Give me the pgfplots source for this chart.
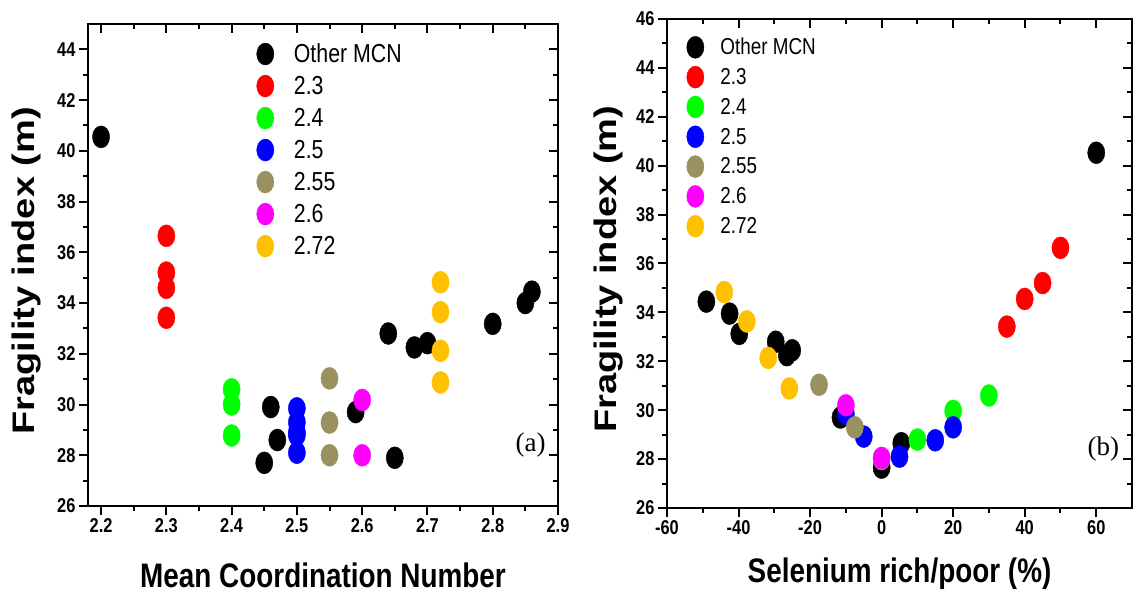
\documentclass[border=0pt]{standalone}
\usepackage{fontspec}
\setmainfont{Liberation Sans}[FakeStretch=0.82]
\newfontfamily\ylfont{Liberation Sans}
\newfontfamily\serfont{Liberation Serif}
\usepackage{graphicx}
\usepackage{pgfplots}
\pgfplotsset{compat=1.18}

\definecolor{cOlive}{RGB}{153,145,95}
\definecolor{cGold}{RGB}{255,192,0}
\definecolor{cGreen}{RGB}{0,255,0}
\definecolor{cRed}{RGB}{255,0,0}
\definecolor{cBlue}{RGB}{0,0,255}
\definecolor{cMag}{RGB}{255,0,255}

\pgfplotsset{
  dot/.style={only marks, mark=*, color=#1, mark size=8.6pt,
    mark options={yscale=1.28, fill=#1, draw=#1}},
  base/.style={
    scale only axis, anchor=south west,
    axis line style={line width=2.4pt},
    major tick length=9pt, minor tick length=5pt,
    every tick/.append style={line width=2pt, black},
    /pgf/number format/assume math mode=true,
    ticklabel style={font=\bfseries\fontsize{20}{20}\selectfont},
    legend image code/.code={\draw[#1] plot coordinates {(0pt,0pt)};},
  },
  main/.style={base, xtick pos=left, ytick pos=left, tick align=outside},
  mirror/.style={base, xtick pos=right, ytick pos=right, tick align=inside,
    xticklabels={}, yticklabels={}, axis line style={draw=none}},
  leftgeom/.style={at={(88pt,88pt)}, width=470pt, height=482pt,
    xmin=2.18, xmax=2.9, ymin=26, ymax=45,
    xtick={2.2,2.3,2.4,2.5,2.6,2.7,2.8,2.9}, ytick={26,28,30,32,34,36,38,40,42,44},
    minor x tick num=1, minor y tick num=1,
    xticklabel style={/pgf/number format/.cd, fixed, fixed zerofill, precision=1}},
  rightgeom/.style={at={(667pt,86pt)}, width=465pt, height=489pt,
    xmin=-60, xmax=70, ymin=26, ymax=46,
    xtick={-60,-40,-20,0,20,40,60}, ytick={26,28,30,32,34,36,38,40,42,44,46},
    minor x tick num=1, minor y tick num=1},
}

\pgfplotstableread{
x y
2.20 40.55
2.45 27.70
2.46 29.90
2.47 28.60
2.59 29.70
2.64 32.80
2.65 27.90
2.68 32.25
2.70 32.42
2.80 33.18
2.85 34.00
2.86 34.45
}\LOther
\pgfplotstableread{
x y
2.3 36.65
2.3 35.20
2.3 34.60
2.3 33.42
}\LA
\pgfplotstableread{
x y
2.4 30.60
2.4 30.00
2.4 28.78
}\LB
\pgfplotstableread{
x y
2.5 29.85
2.5 29.30
2.5 28.90
2.5 28.80
2.5 28.10
}\LC
\pgfplotstableread{
x y
2.55 31.03
2.55 29.29
2.55 28.00
}\LD
\pgfplotstableread{
x y
2.6 30.18
2.6 28.00
}\LE
\pgfplotstableread{
x y
2.72 34.82
2.72 33.64
2.72 32.12
2.72 30.87
}\LF

\pgfplotstableread{
x y
60 40.53
-49 34.44
-42.5 33.95
-39.8 33.12
-29.6 32.80
-26.5 32.25
-25 32.45
-11.5 29.70
0 27.65
5.5 28.65
}\ROther
\pgfplotstableread{
x y
35 33.42
40 34.55
45 35.20
50 36.64
}\RA
\pgfplotstableread{
x y
10 28.80
20 29.97
30 30.60
}\RB
\pgfplotstableread{
x y
-10 29.85
-5 28.92
5 28.10
15 28.77
20 29.30
}\RC
\pgfplotstableread{
x y
-17.5 31.04
-7.5 29.30
0 28.00
}\RD
\pgfplotstableread{
x y
-10 30.20
0 28.05
}\RE
\pgfplotstableread{
x y
-44 34.83
-37.7 33.63
-31.7 32.14
-25.8 30.89
}\RF

\begin{document}
\begin{tikzpicture}
\path[use as bounding box] (0,0) rectangle (1139pt,594pt);

% ---------- left panel ----------
\begin{axis}[mirror, leftgeom]
\end{axis}
\begin{axis}[main, leftgeom,
  xlabel={\bfseries\fontsize{34}{34}\selectfont Mean Coordination Number},
  xlabel style={at={(axis description cs:0.5,-0.170)}, anchor=base},
  ylabel={\scalebox{1}[0.82]{\ylfont\bfseries\fontsize{38}{38}\selectfont Fragility index (m)}},
  ylabel style={at={(axis description cs:-0.1128,0.488)}, anchor=base, rotate=0},
  legend style={draw=none, fill=none, inner sep=0pt, nodes={inner sep=0pt},
    row sep=10pt, column sep=20pt,
    at={(axis description cs:0.3585,0.961)}, anchor=north west,
    font=\fontsize{26}{26}\selectfont},
  legend cell align=left,
]
\addplot[dot=black] table {\LOther}; \addlegendentry{Other MCN}
\addplot[dot=cRed] table {\LA}; \addlegendentry{2.3}
\addplot[dot=cGreen] table {\LB}; \addlegendentry{2.4}
\addplot[dot=cBlue] table {\LC}; \addlegendentry{2.5}
\addplot[dot=cOlive] table {\LD}; \addlegendentry{2.55}
\addplot[dot=cMag] table {\LE}; \addlegendentry{2.6}
\addplot[dot=cGold] table {\LF}; \addlegendentry{2.72}
\node[font=\serfont\fontsize{27}{27}\selectfont] at (axis cs:2.858,28.4) {(a)};
\end{axis}

% ---------- right panel ----------
\begin{axis}[mirror, rightgeom]
\end{axis}
\begin{axis}[main, rightgeom,
  xlabel={\bfseries\fontsize{34}{34}\selectfont Selenium rich/poor (\%)},
  xlabel style={at={(axis description cs:0.5,-0.153)}, anchor=base},
  ylabel={\scalebox{1}[0.82]{\ylfont\bfseries\fontsize{38}{38}\selectfont Fragility index (m)}},
  ylabel style={at={(axis description cs:-0.1097,0.488)}, anchor=base, rotate=0},
  legend style={draw=none, fill=none, inner sep=0pt, nodes={inner sep=0pt},
    row sep=7.8pt, column sep=16.5pt,
    at={(axis description cs:0.042,0.965)}, anchor=north west,
    font=\fontsize{23}{23}\selectfont},
  legend cell align=left,
]
\addplot[dot=black] table {\ROther}; \addlegendentry{Other MCN}
\addplot[dot=cRed] table {\RA}; \addlegendentry{2.3}
\addplot[dot=cGreen] table {\RB}; \addlegendentry{2.4}
\addplot[dot=cBlue] table {\RC}; \addlegendentry{2.5}
\addplot[dot=cOlive] table {\RD}; \addlegendentry{2.55}
\addplot[dot=cMag] table {\RE}; \addlegendentry{2.6}
\addplot[dot=cGold] table {\RF}; \addlegendentry{2.72}
\node[font=\serfont\fontsize{27}{27}\selectfont] at (axis cs:62,28.4) {(b)};
\end{axis}
\end{tikzpicture}
\end{document}
